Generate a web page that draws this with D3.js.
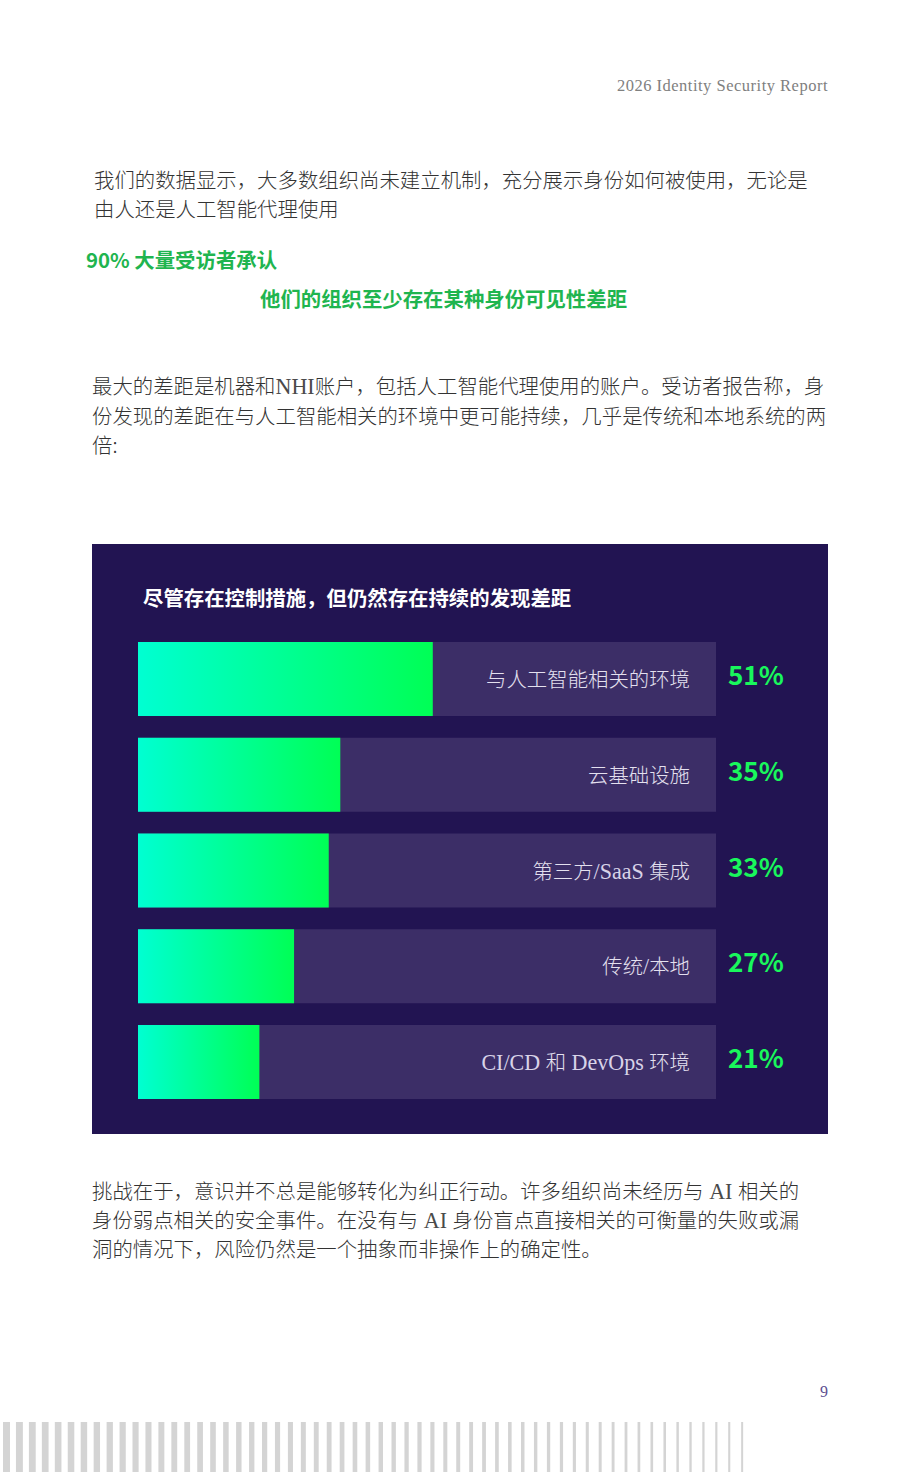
<!DOCTYPE html>
<html><head><meta charset="utf-8">
<script src="https://cdn.jsdelivr.net/npm/d3@7/dist/d3.min.js"></script>
<style>
html,body{margin:0;padding:0;background:#fff;}
svg{display:block;}
</style></head>
<body>
<svg id="page" width="920" height="1472"></svg>
<script>
const categories = ["与人工智能相关的环境","云基础设施","第三方/SaaS 集成","传统/本地","CI/CD 和 DevOps 环境"];
const values = [51,35,33,27,21];
const valueLabels = ["51%","35%","33%","27%","21%"];
const chartTitle = "尽管存在控制措施，但仍然存在持续的发现差距";
const headerText = "2026 Identity Security Report";
const para1 = ["我们的数据显示，大多数组织尚未建立机制，充分展示身份如何被使用，无论是","由人还是人工智能代理使用"];
const callout = ["90% 大量受访者承认","他们的组织至少存在某种身份可见性差距"];
const para2 = ["最大的差距是机器和NHI账户，包括人工智能代理使用的账户。受访者报告称，身","份发现的差距在与人工智能相关的环境中更可能持续，几乎是传统和本地系统的两","倍:"];
const para3 = ["挑战在于，意识并不总是能够转化为纠正行动。许多组织尚未经历与 AI 相关的","身份弱点相关的安全事件。在没有与 AI 身份盲点直接相关的可衡量的失败或漏","洞的情况下，风险仍然是一个抽象而非操作上的确定性。"];
const pageNumber = "9";

const svg = d3.select("#page");
const serifFont = "'Liberation Serif',serif";
const cjkFont = "'Noto Sans CJK SC','Noto Sans',sans-serif";

// mixed text: Latin runs in serif, CJK runs in light sans
function mixed(sel, str, size, fill, latinFill){
  sel.attr("fill",fill);
  const runs = str.match(/[\x20-\x7E]+|[^\x20-\x7E]+/g) || [];
  runs.forEach(r=>{
    const latin = /^[\x20-\x7E]+$/.test(r) && r !== ":";
    const t = sel.append("tspan")
      .attr("font-family", latin ? serifFont : cjkFont)
      .attr("font-weight", latin ? 400 : 300)
      .attr("font-size", latin ? size*1.08 : size)
      .style("white-space","pre")
      .text(r);
    if (latin && latinFill) t.attr("fill", latinFill);
  });
  return sel;
}

// header
svg.append("text").attr("x",828).attr("y",91).attr("text-anchor","end")
  .attr("font-family",serifFont).attr("font-size",16.5).attr("letter-spacing",0.5).attr("fill","#808080")
  .text(headerText);

function para(lines, x, y0, lh){
  const g = svg.append("g");
  lines.forEach((l,i)=>{
    mixed(g.append("text").attr("x",x).attr("y",y0+i*lh), l, 20.4, "#333", "#4a4a4a");
  });
}
para(para1, 94, 188, 29);
svg.append("text").attr("x",86).attr("y",268).attr("font-family",cjkFont).attr("font-size",20.4)
  .attr("font-weight",700).attr("fill","#1fb54f").text(callout[0]);
svg.append("text").attr("x",260).attr("y",307).attr("font-family",cjkFont).attr("font-size",20.4)
  .attr("font-weight",700).attr("fill","#1fb54f").text(callout[1]);
para(para2, 92, 394, 29.5);
para(para3, 92, 1199, 29);

// chart panel
svg.append("rect").attr("x",92).attr("y",544).attr("width",736).attr("height",590).attr("fill","#221452");
svg.append("text").attr("x",143).attr("y",606).attr("font-family",cjkFont).attr("font-size",20.4)
  .attr("font-weight",700).attr("fill","#ffffff").text(chartTitle);

const x = d3.scaleLinear().domain([0,100]).range([138,716]);
const y = d3.scaleBand().domain(categories).range([642,1099]).paddingInner(0.227).paddingOuter(0);

const defs = svg.append("defs");
const grad = defs.append("linearGradient").attr("id","barGrad").attr("x1","0").attr("x2","1").attr("y1","0").attr("y2","0");
grad.append("stop").attr("offset","0%").attr("stop-color","#00ffd2");
grad.append("stop").attr("offset","100%").attr("stop-color","#00ff55");

const rows = svg.append("g").selectAll("g").data(categories).join("g");
rows.append("rect").attr("x",x(0)).attr("y",d=>y(d)).attr("width",x(100)-x(0)).attr("height",y.bandwidth()).attr("fill","#3c2e67");
rows.append("rect").attr("x",x(0)).attr("y",d=>y(d)).attr("width",(d,i)=>x(values[i])-x(0)).attr("height",y.bandwidth()).attr("fill","url(#barGrad)");
rows.append("text").attr("x",690).attr("y",d=>y(d)+y.bandwidth()/2+8).attr("text-anchor","end")
  .each(function(d){ mixed(d3.select(this), d, 20.4, "#e4e0ef", "#d8d3e8"); });
rows.append("text").attr("x",728).attr("y",d=>y(d)+y.bandwidth()/2+6).attr("font-family",cjkFont)
  .attr("font-size",26).attr("font-weight",700).attr("fill","#19f75c").text((d,i)=>valueLabels[i]);

// page number
svg.append("text").attr("x",828).attr("y",1397).attr("text-anchor","end")
  .attr("font-family",serifFont).attr("font-size",16).attr("fill","#5e4f91").text(pageNumber);

// decorative stripes
const nS = 58;
const sw = d3.scaleLinear().domain([0,nS-1]).range([7,2]);
svg.append("g").selectAll("rect").data(d3.range(nS)).join("rect")
  .attr("x",i=>3+i*12.95).attr("y",1422).attr("width",i=>sw(i)).attr("height",50).attr("fill","#d4d4d4");
</script>
</body></html>
